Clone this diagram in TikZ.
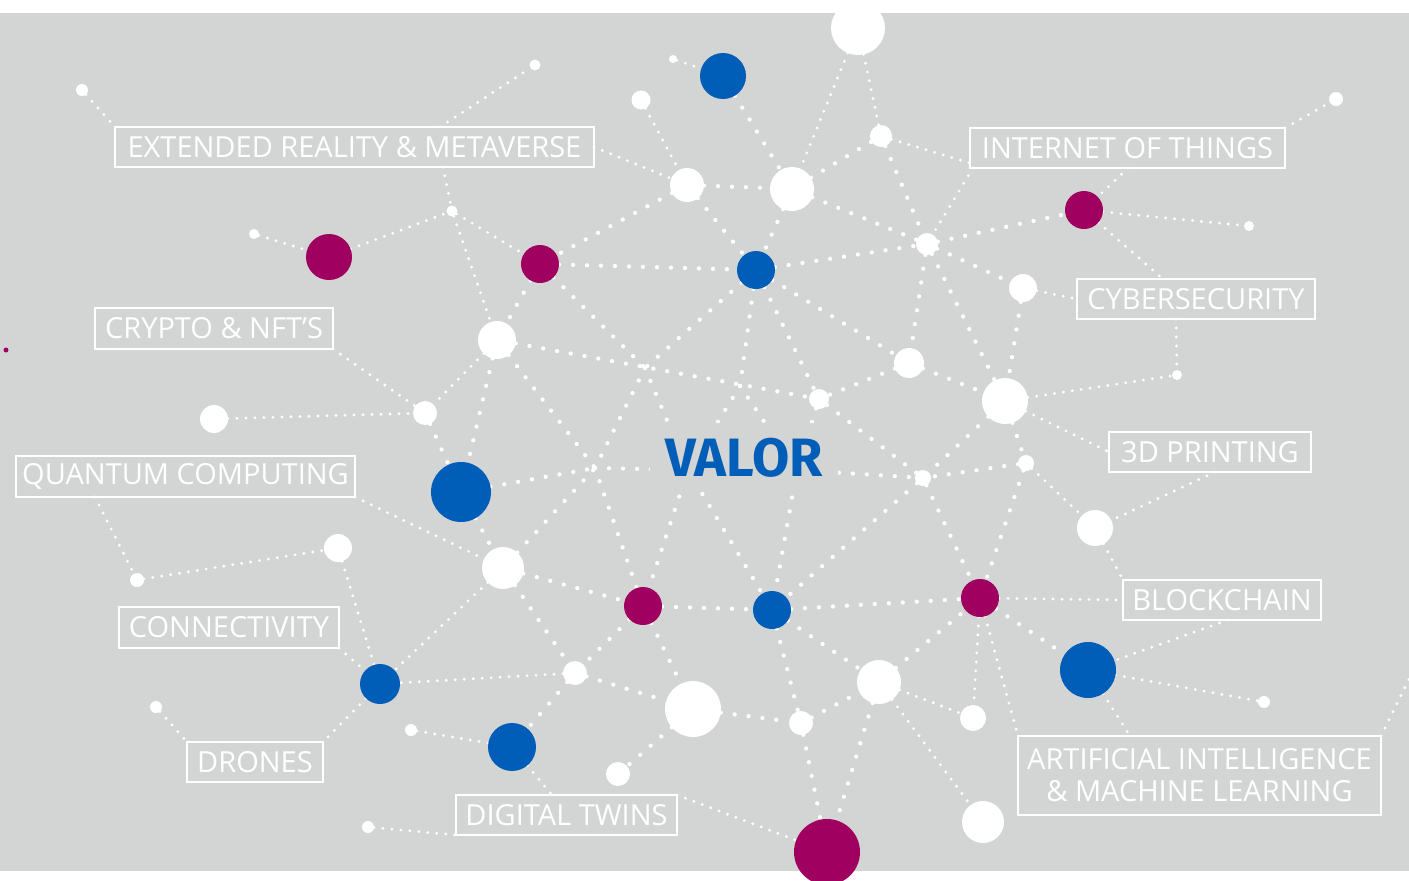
\documentclass[tikz,border=0pt]{standalone}
\usepackage{fontspec}
\setmainfont{Open Sans}
\newfontfamily\valorfont{Fira Sans}
\usetikzlibrary{backgrounds}
\definecolor{bggray}{RGB}{211,212,212}
\definecolor{vblue}{RGB}{0,94,184}
\definecolor{vmagenta}{RGB}{160,0,96}
\pgfdeclarelayer{bg}
\pgfdeclarelayer{links}
\pgfsetlayers{bg,links,main}
\tikzset{
    blob/.style args={#1 #2}{circle, fill=#1, minimum size=#2, inner sep=0pt, outer sep=0pt},
    wdot/.style={blob={white #1}},
    bdot/.style={blob={vblue #1}},
    mdot/.style={blob={vmagenta #1}},
    topic/.style args={#1 #2}{draw=white, line width=1.3pt, minimum width=#1, minimum height=#2,
        inner sep=0pt, outer sep=0pt, text=white, font=\fontsize{29}{32}\selectfont, align=center},
    link/.style={white, line width=4.3pt, line cap=round, dash pattern=on 0pt off 14pt},
    twig/.style={white, line width=3.2pt, line cap=round, dash pattern=on 0pt off 9pt}
}
\begin{document}
\begin{tikzpicture}[x=1pt, y=-1pt]
    \useasboundingbox (0,0) rectangle (1409,881);
    \begin{pgfonlayer}{bg}
    \fill[bggray] (0,13) rectangle (1409,871);
    \end{pgfonlayer}
    % white dots
    \node[wdot=12pt] (w1) at (82,90) {};
    \node[wdot=11pt] (w2) at (535,65) {};
    \node[wdot=8pt] (w3) at (673,59) {};
    \node[wdot=19pt] (w4) at (641,100) {};
    \node[wdot=54pt] (w5) at (858,28) {};
    \node[wdot=34pt] (w6) at (687,185) {};
    \node[wdot=44pt] (w7) at (792,189) {};
    \node[wdot=22pt] (w8) at (881,136) {};
    \node[wdot=22pt] (w9) at (927,244) {};
    \node[wdot=14pt] (w10) at (1336,99) {};
    \node[wdot=10pt] (w11) at (1249,226) {};
    \node[wdot=28pt] (w12) at (1023,288) {};
    \node[wdot=11pt] (w13) at (452,211) {};
    \node[wdot=10pt] (w14) at (254,234) {};
    \node[wdot=38pt] (w15) at (497,340) {};
    \node[wdot=24pt] (w16) at (425,413) {};
    \node[wdot=28pt] (w17) at (214,419) {};
    \node[wdot=30pt] (w18) at (909,363) {};
    \node[wdot=20pt] (w19) at (819,399) {};
    \node[wdot=46pt] (w20) at (1005,401) {};
    \node[wdot=10pt] (w21) at (1177,375) {};
    \node[wdot=16pt] (w22) at (1026,463) {};
    \node[wdot=16pt] (w23) at (923,478) {};
    \node[wdot=36pt] (w24) at (1095,528) {};
    \node[wdot=42pt] (w25) at (503,568) {};
    \node[wdot=28pt] (w26) at (338,548) {};
    \node[wdot=14pt] (w27) at (137,580) {};
    \node[wdot=24pt] (w28) at (575,673) {};
    \node[wdot=56pt] (w29) at (693,709) {};
    \node[wdot=24pt] (w30) at (801,723) {};
    \node[wdot=44pt] (w31) at (879,682) {};
    \node[wdot=26pt] (w32) at (973,718) {};
    \node[wdot=42pt] (w33) at (983,822) {};
    \node[wdot=12pt] (w34) at (1264,702) {};
    \node[wdot=12pt] (w35) at (156,707) {};
    \node[wdot=12pt] (w36) at (411,730) {};
    \node[wdot=24pt] (w37) at (618,774) {};
    \node[wdot=12pt] (w38) at (368,827) {};
    % blue dots
    \node[bdot=46pt] (b1) at (723,76) {};
    \node[bdot=38pt] (b2) at (756,270) {};
    \node[bdot=60pt] (b3) at (461,492) {};
    \node[bdot=38pt] (b4) at (772,610) {};
    \node[bdot=40pt] (b5) at (380,684) {};
    \node[bdot=48pt] (b6) at (512,747) {};
    \node[bdot=56pt] (b7) at (1088,670) {};
    % magenta dots
    \node[mdot=46pt] (m1) at (329,257) {};
    \node[mdot=38pt] (m2) at (540,264) {};
    \node[mdot=38pt] (m3) at (1084,210) {};
    \node[mdot=38pt] (m4) at (643,606) {};
    \node[mdot=38pt] (m5) at (980,598) {};
    \node[mdot=66pt] (m6) at (827,852) {};
    \node[mdot=5pt] (m7) at (6,350) {};
    % hidden crossings
    \coordinate (j1) at (645,368);
    \coordinate (j2) at (740,386);
    \coordinate (j3) at (595,468);
    \coordinate (j4) at (688,470);
    \coordinate (j5) at (797,470);
    \coordinate (off) at (1415,667);
    % topics
    \node[topic={479pt 40pt}] (ext) at (354.5,147) {EXTENDED REALITY \& METAVERSE};
    \node[topic={315pt 40pt}] (iot) at (1127.5,148) {INTERNET OF THINGS};
    \node[topic={238pt 41pt}] (crypto) at (214,328.5) {CRYPTO \& NFT’S};
    \node[topic={238pt 40pt}] (cyber) at (1196,299) {CYBERSECURITY};
    \node[topic={339pt 41pt}] (qc) at (185.5,476.5) {QUANTUM COMPUTING};
    \node[topic={202pt 40pt}] (print) at (1210,452) {3D PRINTING};
    \node[topic={220pt 41pt}] (conn) at (229,627.5) {CONNECTIVITY};
    \node[topic={198pt 40pt}] (chain) at (1222,600) {BLOCKCHAIN};
    \node[topic={136pt 40pt}] (drones) at (255,762) {DRONES};
    \node[topic={221pt 40pt}] (twins) at (566.5,815) {DIGITAL TWINS};
    \node[topic={363pt 79pt}] (ai) at (1199.5,775.5) {ARTIFICIAL INTELLIGENCE\\\& MACHINE LEARNING};
    \node[fill=bggray, text=vblue, minimum width=188pt, minimum height=69pt, inner sep=0pt,
        font=\valorfont\bfseries\fontsize{54}{60}\selectfont] (valor) at (744,457.5) {VALOR};
    \begin{pgfonlayer}{links}
    % outer twigs
    \draw[twig] (w1) -- (ext.north west);
    \draw[twig] ([xshift=325pt]ext.north west) -- (w2);
    \draw[twig] ([xshift=328pt]ext.south west) -- (w13);
    \draw[twig] (ext.east) -- (w6);
    \draw[twig] (w14) -- (m1);
    \draw[twig] (m1) -- (w13);
    \draw[twig] (w13) -- (m2);
    \draw[twig] (w13) -- (w15);
    \draw[twig] (w3) -- (b1);
    \draw[twig] (w4) -- (w6);
    \draw[twig] (w5) -- (w7);
    \draw[twig] (w5) -- (w8);
    \draw[twig] (w8) -- ([yshift=-15pt]iot.west);
    \draw[twig] ([xshift=3pt]iot.south west) -- (w9);
    \draw[twig] (iot.north east) -- (w10);
    \draw[twig] ([xshift=158pt]iot.south west) -- (m3);
    \draw[twig] (m3) -- (w11);
    \draw[twig] (m3) -- ([xshift=86pt]cyber.north west);
    \draw[twig] (w12) -- (cyber.west);
    \draw[twig] ([xshift=99pt]cyber.south west) -- (w21);
    \draw[twig] (w20) -- (w21);
    \draw[twig] (w20) -- (print.west);
    \draw[twig] ([xshift=106pt]print.south west) -- (w24);
    \draw[twig] (w22) -- (w24);
    \draw[twig] (w24) -- (chain.north west);
    \draw[twig] (m5) -- (chain.west);
    \draw[twig] ([xshift=105pt]chain.south west) -- (b7);
    \draw[twig] (b7) -- (w34);
    \draw[twig] (b7) -- ([xshift=112pt]ai.north west);
    \draw[twig] (m5) -- (ai.north west);
    \draw[twig] (m5) -- (w32);
    \draw[twig] (w31) -- (w32);
    \draw[twig] (w31) -- (w33);
    \draw[twig] (ai.north east) -- (off);
    \draw[twig] (twins.north east) -- (m6);
    \draw[twig] (w36) -- (b6);
    \draw[twig] (b6) -- ([xshift=96pt]twins.north west);
    \draw[twig] (w38) -- (twins.south west);
    \draw[twig] (b5) -- (drones.north east);
    \draw[twig] (w35) -- (drones.north west);
    \draw[twig] (conn.south east) -- (b5);
    \draw[twig] (w26) -- (b5);
    \draw[twig] (w25) -- (b5);
    \draw[twig] (w28) -- (b5);
    \draw[twig] (w27) -- (w26);
    \draw[twig] ([xshift=79pt]qc.south west) -- (w27);
    \draw[twig] (qc.south east) -- (w25);
    \draw[twig] (w15) -- (w16);
    \draw[twig] (w17) -- (w16);
    \draw[twig] (crypto.south east) -- (w16);
    % inner mesh
    \draw[link] (b1) -- (w7);
    \draw[link] (w6) -- (w7);
    \draw[link] (w7) -- (w8);
    \draw[link] (w8) -- (w9);
    \draw[link] (w7) -- (w9);
    \draw[link] (w6) -- (m2);
    \draw[link] (w6) -- (b2);
    \draw[link] (w7) -- (b2);
    \draw[link] (m2) -- (b2);
    \draw[link] (b2) -- (w9);
    \draw[link] (w9) -- (m3);
    \draw[link] (w9) -- (w12);
    \draw[link] (w9) -- (w20);
    \draw[link] (w9) -- (w18);
    \draw[link] (w12) -- (w20);
    \draw[link] (w18) -- (w20);
    \draw[link] (w20) -- (w23);
    \draw[link] (w20) -- (w22);
    \draw[link] (w22) -- (m5);
    \draw[link] (w22) -- (w23);
    \draw[link] (w23) -- (m5);
    \draw[link] (w23) -- (b4);
    \draw[link] (b4) -- (m5);
    \draw[link] (m5) -- (b7);
    \draw[link] (w31) -- (m5);
    \draw[link] (b4) -- (w31);
    \draw[link] (b4) -- (w30);
    \draw[link] (w30) -- (w31);
    \draw[link] (w30) -- (m6);
    \draw[link] (w31) -- (m6);
    \draw[link] (w29) -- (w30);
    \draw[link] (m4) -- (w29);
    \draw[link] (w29) -- (w37);
    \draw[link] (w28) -- (w29);
    \draw[link] (m4) -- (w28);
    \draw[link] (w25) -- (w28);
    \draw[link] (w28) -- (b6);
    \draw[link] (b3) -- (w25);
    \draw[link] (w25) -- (m4);
    \draw[link] (m4) -- (b4);
    \draw[link] (w25) -- (j3);
    \draw[link] (j3) -- (m4);
    \draw[link] (j4) -- (m4);
    \draw[link] (j4) -- (b4);
    \draw[link] (j5) -- (b4);
    \draw[link] (b3) -- (j3);
    \draw[link] (j3) -- (j4);
    \draw[link] (w15) -- (j3);
    \draw[link] (j1) -- (j3);
    \draw[link] (j1) -- (j4);
    \draw[link] (j2) -- (j4);
    \draw[link] (j2) -- (j5);
    \draw[link] (w19) -- (j5);
    \draw[link] (j5) -- (w23);
    \draw[link] (w15) -- (w19);
    \draw[link] (m2) -- (j1);
    \draw[link] (b2) -- (j1);
    \draw[link] (b2) -- (j2);
    \draw[link] (b2) -- (w19);
    \draw[link] (b2) -- (w18);
    \draw[link] (w18) -- (w19);
    \draw[link] (w19) -- (w23);
    \draw[link] (w15) -- (b3);
    \draw[link] (m2) -- (w15);
    \draw[link] (w16) -- (b3);
    \end{pgfonlayer}
\end{tikzpicture}
\end{document}
